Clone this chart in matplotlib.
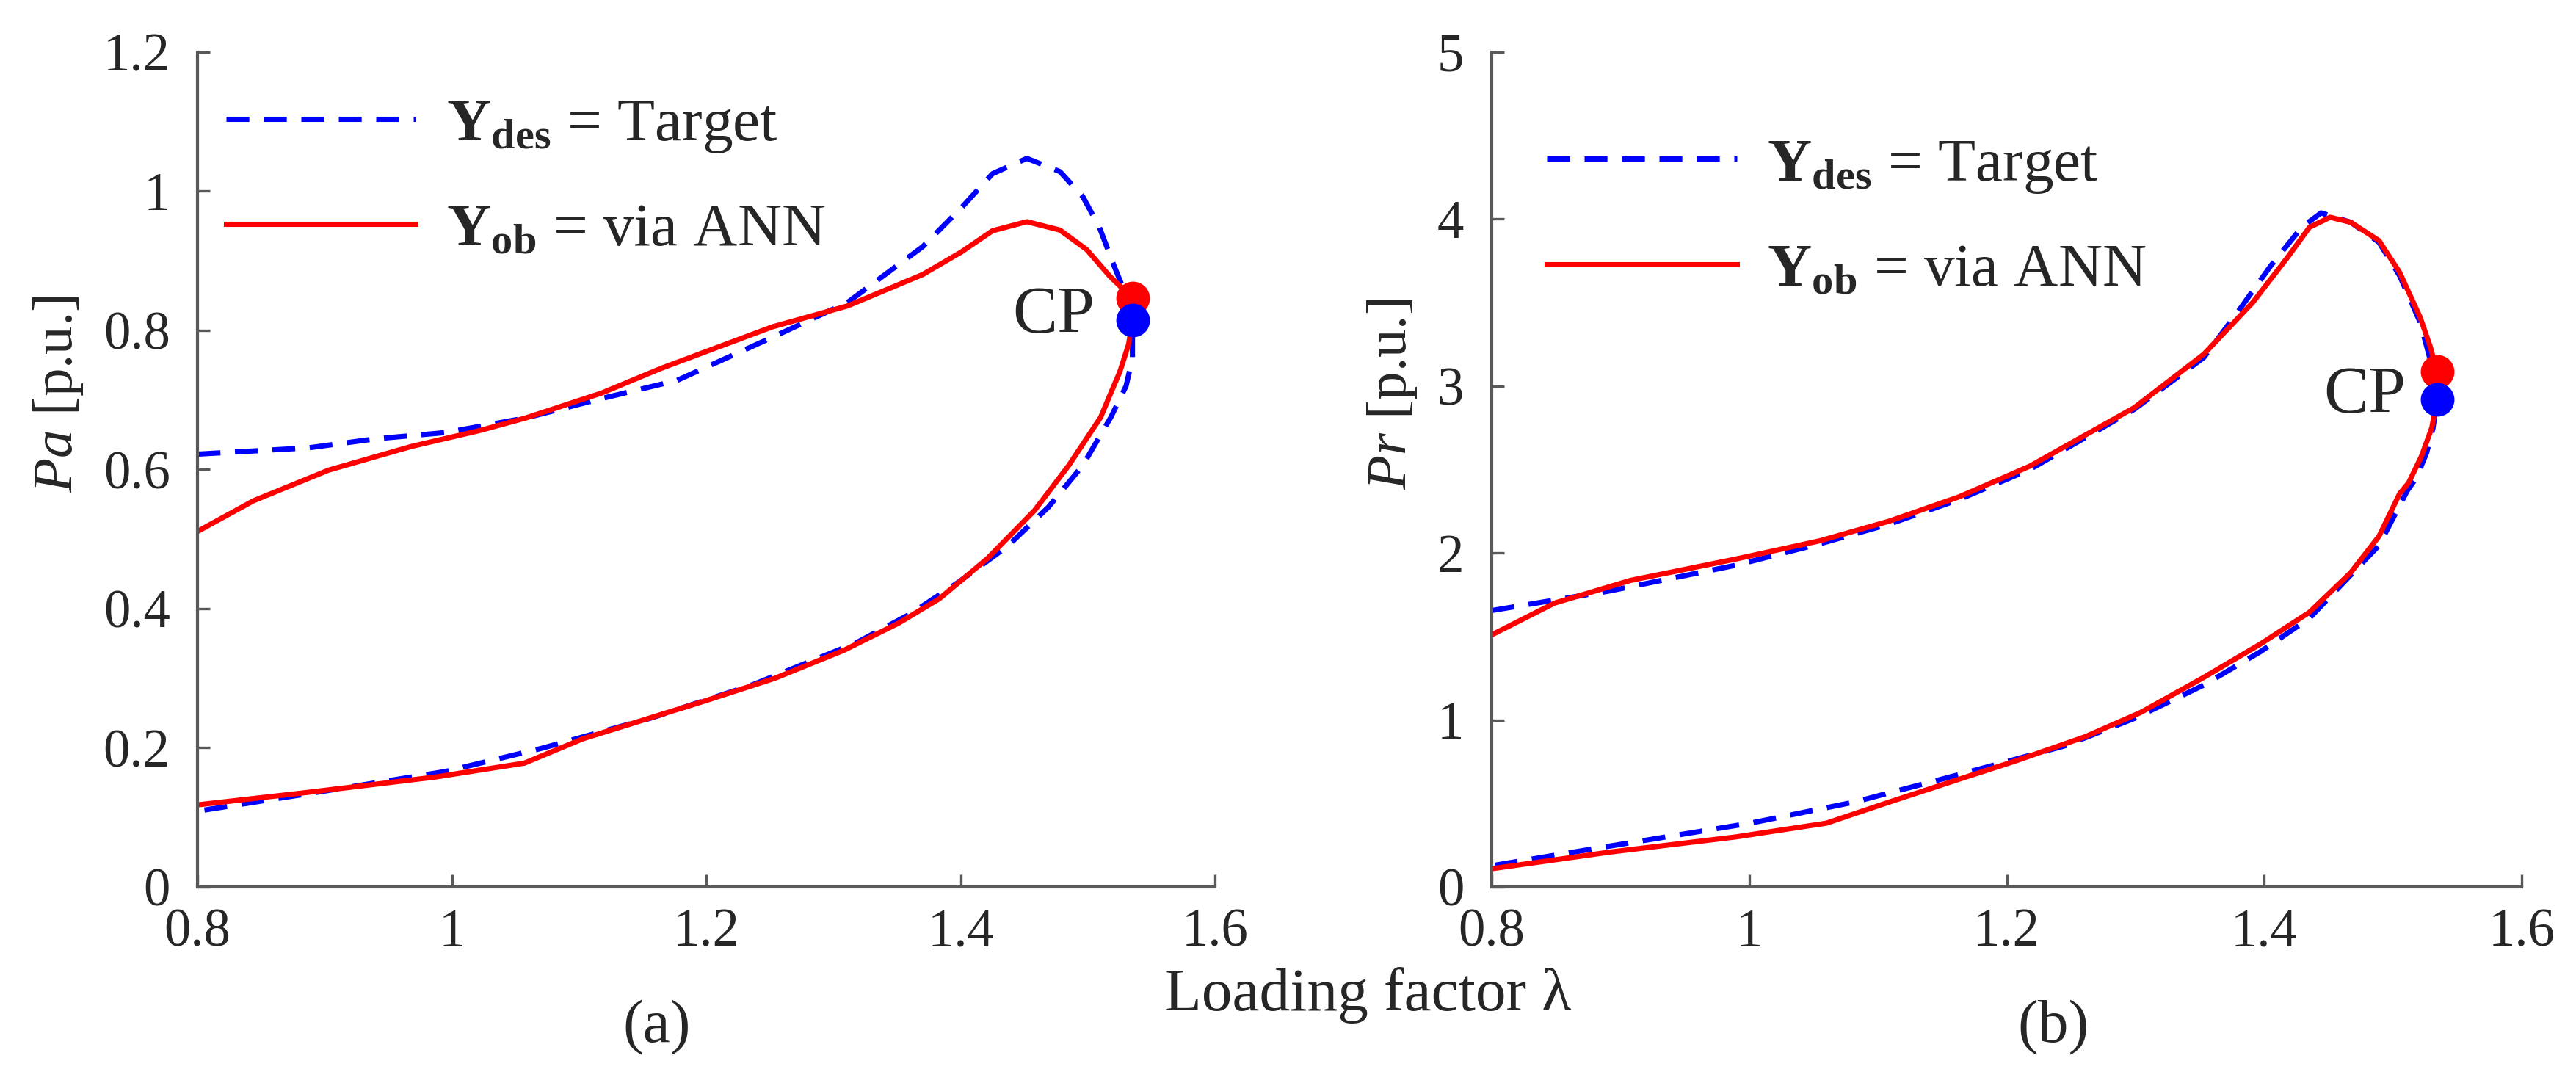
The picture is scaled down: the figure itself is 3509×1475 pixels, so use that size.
import matplotlib
matplotlib.use("Agg")
import matplotlib.pyplot as plt

plt.rcParams['font.family'] = ['Liberation Serif', 'DejaVu Serif']
plt.rcParams['mathtext.fontset'] = 'custom'
plt.rcParams['mathtext.rm'] = 'Liberation Serif'
plt.rcParams['mathtext.it'] = 'Liberation Serif:italic'
plt.rcParams['mathtext.bf'] = 'Liberation Serif:bold'

# (a) Pa - each loop runs from lambda=0.8 along the upper branch to CP, then back along the lower branch
lam_a_des = [0.800, 0.887, 0.940, 0.995, 1.058, 1.118, 1.177, 1.252, 1.311, 1.370, 1.400, 1.425, 1.452,
             1.478, 1.496, 1.509, 1.520, 1.530, 1.535,
             1.535, 1.530, 1.518, 1.496, 1.469, 1.437, 1.399, 1.361, 1.318, 1.237, 1.157, 1.070, 0.995,
             0.887, 0.800]
pa_des = [0.622, 0.631, 0.644, 0.653, 0.674, 0.702, 0.728, 0.790, 0.840, 0.920, 0.975, 1.025, 1.047,
          1.028, 0.992, 0.948, 0.895, 0.850, 0.815,
          0.760, 0.720, 0.675, 0.606, 0.546, 0.490, 0.439, 0.393, 0.351, 0.291, 0.243, 0.199, 0.166,
          0.134, 0.109]

lam_a_ann = [0.800, 0.844, 0.903, 0.968, 1.022, 1.058, 1.118, 1.164, 1.252, 1.311, 1.370, 1.400, 1.425,
             1.452, 1.478, 1.499, 1.517, 1.530, 1.535,
             1.535, 1.532, 1.525, 1.518, 1.510, 1.485, 1.458, 1.421, 1.383, 1.351, 1.308, 1.254, 1.200,
             1.103, 1.057, 0.987, 0.887, 0.800]
pa_ann = [0.511, 0.555, 0.599, 0.633, 0.656, 0.674, 0.710, 0.745, 0.805, 0.835, 0.880, 0.912, 0.943,
          0.956, 0.944, 0.916, 0.878, 0.855, 0.846,
          0.815, 0.780, 0.740, 0.710, 0.675, 0.606, 0.541, 0.472, 0.414, 0.379, 0.340, 0.300, 0.268,
          0.213, 0.178, 0.158, 0.136, 0.118]

# (b) Pr
lam_b_des = [0.800, 0.892, 0.990, 1.055, 1.109, 1.163, 1.218, 1.299, 1.353, 1.380, 1.405, 1.429, 1.444,
             1.467, 1.489, 1.505, 1.521, 1.529, 1.534,
             1.531, 1.526, 1.518, 1.511, 1.489, 1.462, 1.435, 1.397, 1.353, 1.299, 1.245, 1.163, 1.082,
             1.001, 0.892, 0.800]
pr_des = [1.655, 1.773, 1.927, 2.055, 2.173, 2.320, 2.500, 2.860, 3.170, 3.450, 3.720, 3.950, 4.036,
          3.980, 3.860, 3.660, 3.380, 3.150, 2.920,
          2.750, 2.600, 2.450, 2.373, 2.045, 1.827, 1.609, 1.409, 1.209, 1.009, 0.845, 0.673, 0.509,
          0.382, 0.245, 0.127]

lam_b_ann = [0.800, 0.849, 0.908, 0.990, 1.055, 1.109, 1.163, 1.218, 1.299, 1.353, 1.391, 1.418, 1.435,
             1.451, 1.467, 1.489, 1.505, 1.521, 1.529, 1.534,
             1.534, 1.530, 1.522, 1.512, 1.505, 1.489, 1.467, 1.435, 1.397, 1.353, 1.304, 1.261, 1.207,
             1.163, 1.109, 1.060, 0.990, 0.892, 0.800]
pr_ann = [1.509, 1.700, 1.836, 1.964, 2.073, 2.191, 2.336, 2.520, 2.870, 3.190, 3.500, 3.770, 3.950,
          4.010, 3.980, 3.870, 3.680, 3.410, 3.230, 3.085,
          2.920, 2.750, 2.580, 2.420, 2.355, 2.100, 1.882, 1.645, 1.455, 1.255, 1.045, 0.900, 0.755,
          0.645, 0.509, 0.382, 0.300, 0.209, 0.109]

# critical points (lambda, value)
cp_a_des = (1.535, 0.815)
cp_a_ann = (1.535, 0.846)
cp_b_des = (1.534, 2.920)
cp_b_ann = (1.534, 3.085)

fig = plt.figure(figsize=(11.697, 4.917), dpi=300)
ax1 = fig.add_axes([0.0767, 0.181, 0.395, 0.771])
ax2 = fig.add_axes([0.579, 0.181, 0.400, 0.771])

blue = '#0000ff'
red = '#ff0000'
spine_col = '#595959'
text_col = '#262626'

panels = [
    (ax1, lam_a_des, pa_des, lam_a_ann, pa_ann, cp_a_des, cp_a_ann, 1.2, [0, 0.2, 0.4, 0.6, 0.8, 1, 1.2],
     ['0', '0.2', '0.4', '0.6', '0.8', '1', '1.2'], r'$\mathit{Pa}$ [p.u.]', (1.473, 0.820), (0.004, 0.849)),
    (ax2, lam_b_des, pr_des, lam_b_ann, pr_ann, cp_b_des, cp_b_ann, 5, [0, 1, 2, 3, 4, 5],
     ['0', '1', '2', '3', '4', '5'], r'$\mathit{Pr}$ [p.u.]', (1.478, 2.94), (0.030, 0.801)),
]

for ax, xd, yd, xa, ya, cpd, cpa, ymax, yt, ytl, ylab, cppos, legpos in panels:
    ax.plot(xd, yd, color=blue, lw=1.7, dashes=(4.4, 2.8), label=r'$\mathbf{Y}_{\mathbf{des}}$ = Target')
    ax.plot(xa, ya, color=red, lw=1.7, label=r'$\mathbf{Y}_{\mathbf{ob}}$ = via ANN')
    ax.plot(cpa[0], cpa[1], 'o', color=red, ms=10, zorder=5)
    ax.plot(cpd[0], cpd[1], 'o', color=blue, ms=10, zorder=6)
    ax.text(cppos[0], cppos[1], 'CP', fontsize=22, ha='center', va='center', color=text_col)
    ax.set_xlim(0.8, 1.6)
    ax.set_ylim(0, ymax)
    ax.set_xticks([0.8, 1, 1.2, 1.4, 1.6])
    ax.set_xticklabels(['0.8', '1', '1.2', '1.4', '1.6'])
    ax.set_yticks(yt)
    ax.set_yticklabels(ytl)
    ax.set_ylabel(ylab, fontsize=18.5, color=text_col, labelpad=6, y=0.59)
    for s in ['top', 'right']:
        ax.spines[s].set_visible(False)
    for s in ['left', 'bottom']:
        ax.spines[s].set_color(spine_col)
        ax.spines[s].set_linewidth(1.0)
    ax.tick_params(direction='in', length=4, width=0.8, color=spine_col, labelsize=17.5,
                   labelcolor=text_col)
    ax.tick_params(axis='y', pad=9)
    ax.tick_params(axis='x', pad=7)
    leg = ax.legend(loc='center left', bbox_to_anchor=legpos, frameon=False, fontsize=20,
                    handlelength=3.1, handletextpad=0.5, labelspacing=0.78, borderaxespad=0)
    for t in leg.get_texts():
        t.set_color(text_col)

fig.text(0.531, 0.081, 'Loading factor λ', fontsize=20, ha='center', va='center', color=text_col)
fig.text(0.255, 0.051, '(a)', fontsize=20, ha='center', va='center', color=text_col)
fig.text(0.797, 0.051, '(b)', fontsize=20, ha='center', va='center', color=text_col)

fig.savefig('out.png', dpi=300)
